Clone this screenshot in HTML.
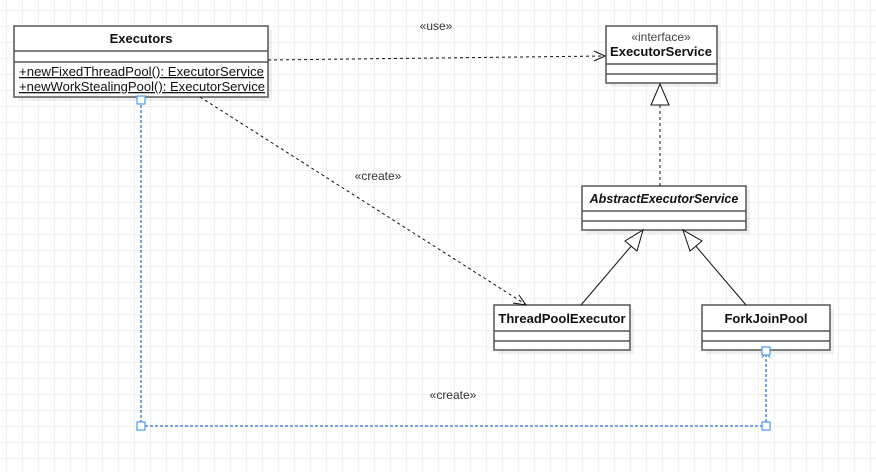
<!DOCTYPE html>
<html><head><style>
body{margin:0;width:876px;height:471px;overflow:hidden;background:#fff;font-family:"Liberation Sans",sans-serif}
</style></head><body>
<svg width="876" height="471" xmlns="http://www.w3.org/2000/svg" font-family="Liberation Sans, sans-serif">
<defs>
<pattern id="g" x="6" y="10" width="16" height="16" patternUnits="userSpaceOnUse">
<path d="M0.5 0V16M0 0.5H16" stroke="#f0f0f0" stroke-width="1" fill="none"/>
</pattern>
</defs>
<rect width="876" height="471" fill="url(#g)"/>
<g fill="#000" opacity="0.06">
<rect x="18" y="30" width="254" height="71"/>
<rect x="610" y="30" width="111" height="57"/>
<rect x="586" y="190" width="164" height="44"/>
<rect x="498" y="309" width="136" height="45"/>
<rect x="706" y="309" width="128" height="45"/>
</g>
<g fill="#fff" stroke="#555" stroke-width="1.5">
<rect x="14" y="26" width="254" height="71"/>
<line x1="14" y1="51" x2="268" y2="51"/><line x1="14" y1="62" x2="268" y2="62"/>
<rect x="606" y="26" width="111" height="57"/>
<line x1="606" y1="64" x2="717" y2="64"/><line x1="606" y1="74" x2="717" y2="74"/>
<rect x="582" y="186" width="164" height="44"/>
<line x1="582" y1="211" x2="746" y2="211"/><line x1="582" y1="221" x2="746" y2="221"/>
<rect x="494" y="305" width="136" height="45"/>
<line x1="494" y1="331" x2="630" y2="331"/><line x1="494" y1="341" x2="630" y2="341"/>
<rect x="702" y="305" width="128" height="45"/>
<line x1="702" y1="331" x2="830" y2="331"/><line x1="702" y1="341" x2="830" y2="341"/>
</g>
<g font-size="12" fill="#111">
<text x="141" y="43" text-anchor="middle" font-weight="bold" font-size="13">Executors</text>
<text x="19" y="76" text-decoration="underline" textLength="245" lengthAdjust="spacingAndGlyphs" font-size="12.8">+newFixedThreadPool(): ExecutorService</text>
<text x="19" y="91" text-decoration="underline" textLength="246" lengthAdjust="spacingAndGlyphs" font-size="12.8">+newWorkStealingPool(): ExecutorService</text>
<text x="661" y="41" text-anchor="middle" fill="#444">«interface»</text>
<text x="661" y="56" text-anchor="middle" font-weight="bold" font-size="13">ExecutorService</text>
<text x="664" y="203" text-anchor="middle" font-weight="bold" font-style="italic" font-size="12.5">AbstractExecutorService</text>
<text x="562" y="323" text-anchor="middle" font-weight="bold" font-size="13">ThreadPoolExecutor</text>
<text x="766" y="323" text-anchor="middle" font-weight="bold" font-size="13">ForkJoinPool</text>
<text x="436" y="30" text-anchor="middle" fill="#333">«use»</text>
<text x="378" y="180" text-anchor="middle" fill="#333">«create»</text>
<text x="453" y="399" text-anchor="middle" fill="#333">«create»</text>
</g>
<g stroke="#111" fill="none" stroke-width="1">
<line x1="268" y1="60" x2="604" y2="56" stroke-dasharray="3,3"/>
<path d="M594 51 L605 56 L594 61"/>
<line x1="200" y1="97" x2="525" y2="304" stroke-dasharray="3,3"/>
<path d="M513 303 L526 305 L519 295"/>
<line x1="660" y1="186" x2="660" y2="105" stroke-dasharray="3,3"/>
<path d="M660 84 L651 105 L669 105 Z" fill="#fff"/>
<line x1="581" y1="305" x2="633" y2="244"/>
<path d="M643 230 L625 241 L637 251 Z" fill="#fff"/>
<line x1="746" y1="305" x2="694" y2="244"/>
<path d="M683 230 L690 251 L702 241 Z" fill="#fff"/>
</g>
<g stroke="#4a86d8" fill="none" stroke-width="1.5" stroke-dasharray="3,2">
<path d="M141 100 V426 H766 V351"/>
</g>
<path d="M762 358 L766 352 L770 358" stroke="#4a86d8" fill="none" stroke-width="1"/>
<g fill="#fff" stroke="#4a9af0" stroke-width="1.2">
<rect x="137" y="96" width="8" height="8"/>
<rect x="137" y="422" width="8" height="8"/>
<rect x="762" y="422" width="8" height="8"/>
<rect x="762" y="347" width="8" height="8"/>
</g>
</svg>
</body></html>
